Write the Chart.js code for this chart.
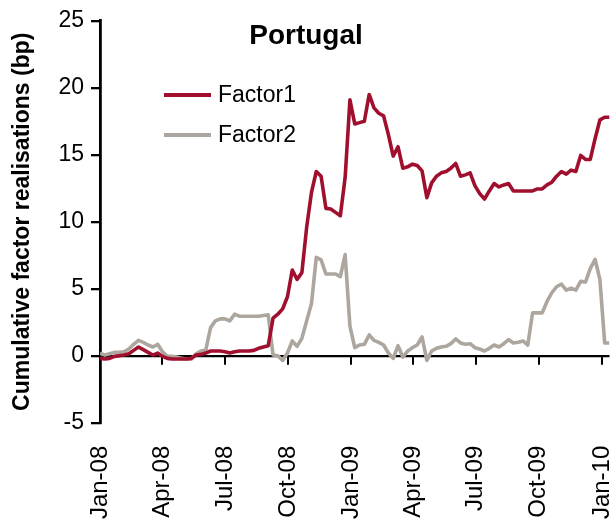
<!DOCTYPE html>
<html>
<head>
<meta charset="utf-8">
<script src="https://cdn.jsdelivr.net/npm/chart.js@4.4.1/dist/chart.umd.min.js"></script>
<style>
  html, body { margin: 0; padding: 0; background: #ffffff; }
  #wrap { width: 616px; height: 525px; }
</style>
</head>
<body>
<div id="wrap"><canvas id="c" width="616" height="525"></canvas></div>
<script>
const FONT = '"Liberation Sans", Arial, Helvetica, sans-serif';
const chartTitle = 'Portugal';
const yAxisTitle = 'Cumulative factor realisations (bp)';
const seriesNames = ['Factor1', 'Factor2'];

// x tick positions: days since 1 Jan 2008 and their labels
const tickDays = [0, 91, 182, 274, 366, 456, 547, 639, 731];
const tickLabels = ['Jan-08', 'Apr-08', 'Jul-08', 'Oct-08', 'Jan-09', 'Apr-09', 'Jul-09', 'Oct-09', 'Jan-10'];

// weekly observations (days since 1 Jan 2008)
const weekDays = Array.from({ length: 107 }, (_, i) => i * 7);

const factor1 = [
  -0.2, -0.25, -0.2, -0.05, 0.0, 0.05, 0.15, 0.4, 0.65, 0.45,
  0.25, 0.05, 0.2, -0.05, -0.2, -0.25, -0.25, -0.25, -0.25, -0.2,
  0.05, 0.1, 0.2, 0.35, 0.35, 0.35, 0.3, 0.2, 0.3, 0.35,
  0.35, 0.35, 0.4, 0.55, 0.65, 0.75, 2.8, 3.1, 3.5, 4.4,
  6.4, 5.7, 6.2, 9.6, 12.2, 13.75, 13.4, 11.0, 10.95, 10.7,
  10.45, 13.3, 19.1, 17.3, 17.4, 17.5, 19.5, 18.5, 18.1, 17.9,
  16.5, 14.9, 15.6, 14.0, 14.1, 14.3, 14.2, 13.8, 11.8, 12.9,
  13.4, 13.65, 13.75, 14.0, 14.35, 13.4, 13.5, 13.65, 12.7, 12.1,
  11.7, 12.3, 12.85, 12.6, 12.75, 12.85, 12.3, 12.3, 12.3, 12.3,
  12.3, 12.45, 12.45, 12.75, 12.95, 13.4, 13.75, 13.55, 13.85, 13.75,
  14.95, 14.65, 14.65, 16.2, 17.6, 17.8, 17.8
];

const factor2 = [
  0.2, 0.05, 0.15, 0.25, 0.25, 0.3, 0.5, 0.85, 1.15, 1.0,
  0.8, 0.65, 0.85, 0.3, -0.05, -0.05, -0.1, -0.2, -0.25, -0.25,
  0.15, 0.35, 0.4, 2.1, 2.6, 2.75, 2.75, 2.6, 3.1, 2.95,
  2.95, 2.95, 2.95, 2.95, 3.0, 3.05, 0.05, 0.0, -0.35, 0.2,
  1.1, 0.7, 1.3, 2.6, 3.9, 7.35, 7.15, 6.1, 6.1, 6.1,
  5.9, 7.55, 2.2, 0.6, 0.8, 0.85, 1.55, 1.15, 1.0, 0.8,
  0.2, -0.2, 0.75, -0.1, 0.35, 0.6, 0.8, 1.4, -0.35, 0.35,
  0.55, 0.65, 0.7, 0.9, 1.25, 0.95, 0.85, 0.9, 0.6, 0.5,
  0.35, 0.55, 0.8, 0.65, 0.9, 1.2, 0.95, 1.0, 1.1, 0.8,
  3.2, 3.2, 3.2, 4.05, 4.7, 5.15, 5.35, 4.9, 5.05, 4.9,
  5.55, 5.5, 6.5, 7.2, 5.7, 0.95, 0.95
];

const colors = ['#A0102E', '#ADA69F'];

const toPoints = arr => arr.map((v, i) => ({ x: weekDays[i], y: v }));

const overlay = {
  id: 'overlay',
  beforeDatasetsDraw(chart) {
    const { ctx, scales: { x, y } } = chart;
    const y0 = y.getPixelForValue(0);
    ctx.save();
    ctx.strokeStyle = '#000';
    ctx.lineWidth = 2;
    tickDays.forEach(d => {
      const px = Math.round(x.getPixelForValue(d));
      ctx.beginPath();
      ctx.moveTo(px, y0);
      ctx.lineTo(px, y0 + 9);
      ctx.stroke();
    });
    ctx.restore();
  },
  afterDatasetsDraw(chart) {
    const { ctx } = chart;
    ctx.save();
    ctx.fillStyle = '#000';
    ctx.textBaseline = 'middle';
    ctx.textAlign = 'center';
    ctx.font = 'bold 28px ' + FONT;
    ctx.fillText(chartTitle, 306, 36);
    ctx.textAlign = 'left';
    ctx.font = '23px ' + FONT;
    chart.data.datasets.forEach((ds, i) => {
      const ly = 95 + i * 40;
      ctx.strokeStyle = ds.borderColor;
      ctx.lineWidth = 3.8;
      ctx.beginPath();
      ctx.moveTo(164, ly);
      ctx.lineTo(211, ly);
      ctx.stroke();
      ctx.fillStyle = '#000';
      ctx.fillText(ds.label, 218, ly + 1);
    });
    ctx.restore();
  }
};

new Chart(document.getElementById('c'), {
  type: 'line',
  data: {
    datasets: [
      { label: seriesNames[0], data: toPoints(factor1), borderColor: colors[0], backgroundColor: colors[0], borderWidth: 3.6, pointRadius: 0, tension: 0, borderJoinStyle: 'round' },
      { label: seriesNames[1], data: toPoints(factor2), borderColor: colors[1], backgroundColor: colors[1], borderWidth: 3.6, pointRadius: 0, tension: 0, borderJoinStyle: 'round' }
    ]
  },
  options: {
    responsive: false,
    animation: false,
    events: [],
    layout: { padding: { top: 19.5, right: 6.5, left: 0, bottom: 0 } },
    plugins: {
      legend: { display: false },
      title: { display: false },
      tooltip: { enabled: false }
    },
    scales: {
      x: {
        type: 'linear',
        min: 0,
        max: 742,
        afterBuildTicks: axis => { axis.ticks = tickDays.map(v => ({ value: v })); },
        afterFit: axis => {
          axis.height = 102.3;
          axis.paddingLeft = 0;
          axis.paddingRight = 0;
        },
        grid: { display: false, drawTicks: false },
        border: { display: false },
        ticks: {
          autoSkip: false,
          minRotation: 90,
          maxRotation: 90,
          padding: 23,
          color: '#000',
          font: { family: FONT, size: 24 },
          callback: v => tickLabels[tickDays.indexOf(v)]
        }
      },
      y: {
        min: -5,
        max: 25,
        afterFit: axis => { axis.width = 100; },
        ticks: {
          stepSize: 5,
          padding: 7,
          color: '#000',
          font: { family: FONT, size: 23 }
        },
        grid: {
          drawOnChartArea: true,
          color: c => (c.tick && c.tick.value === 0) ? '#000' : 'rgba(0,0,0,0)',
          lineWidth: 2.3,
          tickColor: '#000',
          tickWidth: 2.3,
          tickLength: 9
        },
        border: { display: true, color: '#000', width: 2.8 },
        title: {
          display: true,
          text: yAxisTitle,
          color: '#000',
          font: { family: FONT, size: 23, weight: 'bold' },
          padding: { top: 9, bottom: 0 }
        }
      }
    }
  },
  plugins: [overlay]
});
</script>
</body>
</html>
